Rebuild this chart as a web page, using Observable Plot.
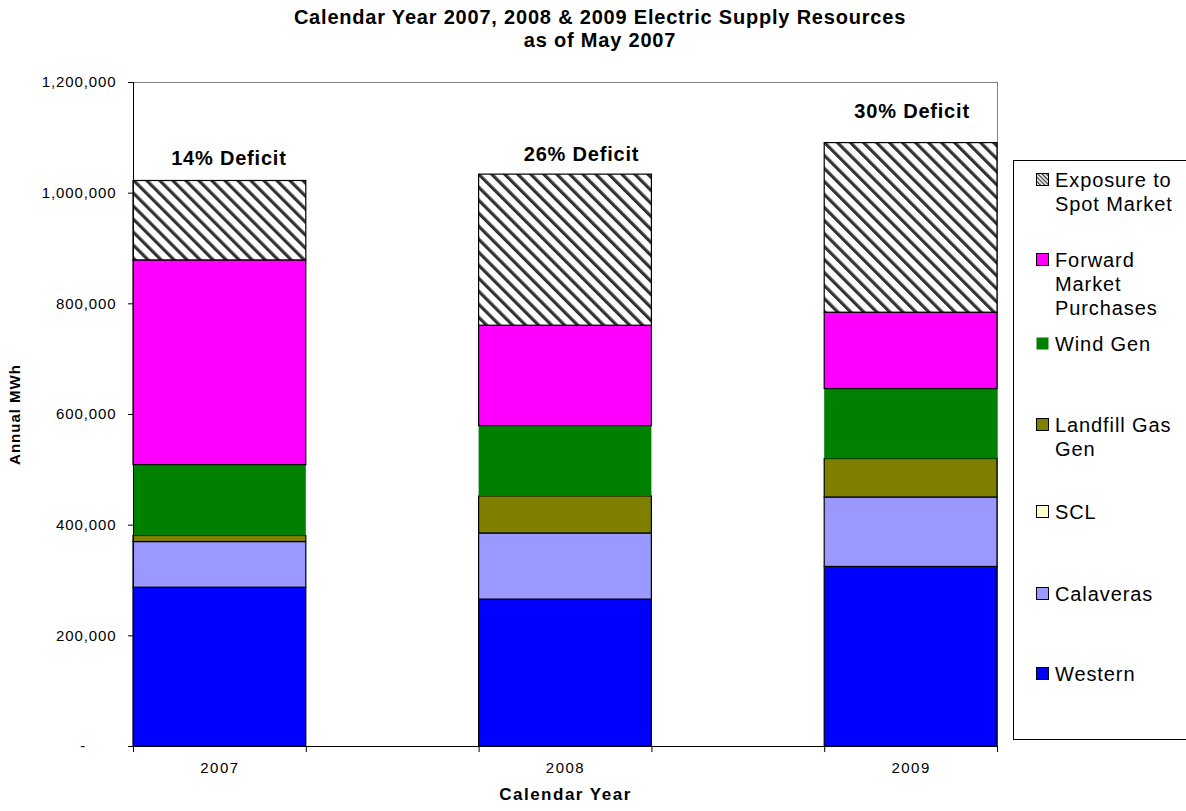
<!DOCTYPE html>
<html>
<head>
<meta charset="utf-8">
<script src="https://cdn.jsdelivr.net/npm/d3@7"></script>
<script src="https://cdn.jsdelivr.net/npm/@observablehq/plot@0.6"></script>
<style>
  body { margin: 0; background: #fff; font-family: 'Liberation Sans', Arial, sans-serif; color: #000; }
  #wrap { position: relative; width: 1186px; height: 811px; overflow: hidden; background: #fff; }
  #title { position: absolute; left: 0; width: 1200px; top: 6px; text-align: center; font-weight: bold; font-size: 20px; line-height: 23px; letter-spacing: 0.8px; }
  #chart { position: absolute; left: 0; top: 62px; }
  #legend { position: absolute; left: 1013px; top: 160px; width: 200px; height: 578px; border: 1px solid #000; background: #fff; }
  .item { position: absolute; left: 0; width: 200px; font-size: 20px; line-height: 24px; letter-spacing: 0.9px; }
  .sw { position: absolute; left: 22px; width: 13px; height: 13px; }
  .lbl { position: absolute; left: 41px; white-space: nowrap; }
</style>
</head>
<body>
<svg width="0" height="0" style="position:absolute">
  <defs>
    <pattern id="hatch" patternUnits="userSpaceOnUse" width="9.2" height="9.2" patternTransform="rotate(-45)">
      <rect width="9.2" height="9.2" fill="#fff"></rect>
      <rect width="3.2" height="9.2" fill="#333"></rect>
    </pattern>
    <pattern id="hatchSmall" patternUnits="userSpaceOnUse" width="3" height="3" patternTransform="rotate(-45)">
      <rect width="3" height="3" fill="#fff"></rect>
      <rect width="1.3" height="3" fill="#333"></rect>
    </pattern>
  </defs>
</svg>
<div id="wrap">
  <div id="title">Calendar Year 2007, 2008 &amp; 2009 Electric Supply Resources<br>as of May 2007</div>
  <div id="chart"></div>
  <div id="legend"></div>
</div>
<script>
// ---- data ----
const years = ["2007", "2008", "2009"];
const series = ["Western", "Calaveras", "SCL", "Landfill Gas Gen", "Wind Gen", "Forward Market Purchases", "Exposure to Spot Market"];
const western = [287000, 265500, 324500];
const calaveras = [82500, 119500, 125500];
const scl = [0, 0, 0];
const landfillGas = [11000, 67000, 69500];
const windGen = [128000, 127000, 126500];
const forwardPurchases = [370000, 181500, 138000];
const spotExposure = [143500, 273000, 306500];
const deficitLabels = ["14% Deficit", "26% Deficit", "30% Deficit"];
const yTicks = [0, 200000, 400000, 600000, 800000, 1000000, 1200000];
const seriesColors = ["#0000ff", "#9999ff", "#ffffcc", "#808000", "#008000", "#ff00ff", "url(#hatch)"];
const legendLabels = ["Exposure to\nSpot Market", "Forward\nMarket\nPurchases", "Wind Gen", "Landfill Gas\nGen", "SCL", "Calaveras", "Western"];

// ---- build table ----
const values = [western, calaveras, scl, landfillGas, windGen, forwardPurchases, spotExposure];
const rows = [];
series.forEach((s, k) => years.forEach((y, i) => rows.push({year: y, slot: 2 * i, slotEnd: 2 * i + 1, source: s, value: values[k][i]})));
const totals = years.map((y, i) => ({slot: 2 * i + 0.5, total: d3.sum(values, v => v[i]), label: deficitLabels[i]}));
const fmt = d3.format(",");
const labelDy = [-22, -20, -31];
const labelDx = [9, 16, 1];

const chart = Plot.plot({
  width: 1186,
  height: 749,
  marginTop: 20,
  marginBottom: 65,
  marginLeft: 133,
  marginRight: 189,
  style: {fontFamily: "'Liberation Sans', Arial, sans-serif", fontSize: "15px", color: "#000", background: "transparent", overflow: "visible"},
  x: {domain: [0, 5], ticks: [0, 1, 2, 3, 4, 5], tickFormat: () => "", tickSize: 6, label: null},
  y: {domain: [0, 1200000], ticks: yTicks, tickFormat: d => d === 0 ? "-\u00a0\u00a0\u00a0\u00a0\u00a0\u00a0" : fmt(d), tickSize: 5, tickPadding: 12, label: null},
  color: {domain: series, range: seriesColors},
  marks: [
    Plot.ruleY([1200000], {stroke: "#808080"}),
    Plot.ruleX([5], {stroke: "#808080"}),
    Plot.rectY(rows, Plot.stackY({
      x1: "slot", x2: "slotEnd", y: "value", fill: "source", order: series,
      stroke: d => d.source === "Wind Gen" ? "none" : "#000", strokeWidth: 1.2
    })),
    Plot.ruleX([0], {stroke: "#000"}),
    Plot.ruleY([0], {stroke: "#000"}),
    ...totals.map((t, i) => Plot.text([t], {x: "slot", y: "total", text: "label", dx: labelDx[i], dy: labelDy[i], fontSize: 20, fontWeight: "bold"})),
    Plot.text(years, {x: (d, i) => 2 * i + 0.5, frameAnchor: "bottom", dy: 26, text: d => d, fontSize: 15}),
    Plot.text(["Annual MWh"], {frameAnchor: "left", textAnchor: "middle", dx: -118, rotate: -90, fontWeight: "bold", fontSize: 15}),
    Plot.text(["Calendar Year"], {frameAnchor: "bottom", dy: 53, fontWeight: "bold", fontSize: 17})
  ]
});
// letter spacing to mimic the wide rendering of the original
d3.select(chart).selectAll("text").each(function () {
  const t = this.textContent;
  let ls = 0.9;
  if (t === "Annual MWh") ls = 1;
  else if (t === "Calendar Year") ls = 1.5;
  else if (years.includes(t)) ls = 1.5;
  else if (deficitLabels.includes(t)) ls = 0.8;
  this.style.letterSpacing = ls + "px";
});
document.getElementById("chart").appendChild(chart);

// ---- legend (top to bottom) ----
const legendCapTops = [173, 253, 337, 418, 505, 587, 667];
const legendSeries = series.slice().reverse();
const legendColors = seriesColors.slice().reverse();
const legend = document.getElementById("legend");
legendSeries.forEach((s, j) => {
  const top = legendCapTops[j] - 161;
  const item = document.createElement("div");
  item.className = "item";
  item.style.top = (top - 5) + "px";
  const sw = document.createElementNS("http://www.w3.org/2000/svg", "svg");
  sw.setAttribute("class", "sw");
  sw.setAttribute("width", 13);
  sw.setAttribute("height", 13);
  sw.style.top = "5px";
  const r = document.createElementNS("http://www.w3.org/2000/svg", "rect");
  r.setAttribute("x", 0.5); r.setAttribute("y", 0.5);
  r.setAttribute("width", 12); r.setAttribute("height", 12);
  r.setAttribute("fill", s === "Exposure to Spot Market" ? "url(#hatchSmall)" : legendColors[j]);
  r.setAttribute("stroke", s === "Wind Gen" ? "none" : "#000");
  sw.appendChild(r);
  item.appendChild(sw);
  const lbl = document.createElement("div");
  lbl.className = "lbl";
  lbl.innerHTML = legendLabels[j].split("\n").join("<br>");
  item.appendChild(lbl);
  legend.appendChild(item);
});
</script>
</body>
</html>
